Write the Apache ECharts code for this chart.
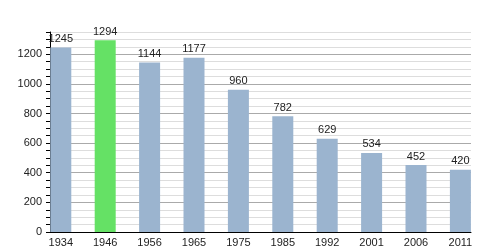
<!DOCTYPE html>
<html><head><meta charset="utf-8">
<script src="https://cdn.jsdelivr.net/npm/echarts@6/dist/echarts.min.js"></script>
<style>html,body{margin:0;padding:0;background:#fff}#c{width:500px;height:250px}</style>
</head><body><div id="c"></div>
<script>
const years = ['1934','1946','1956','1965','1975','1985','1992','2001','2006','2011'];
const population = [1245,1294,1144,1177,960,782,629,534,452,420];
const highlightYear = '1946';
const yMax = 1350;

const blue = '#9bb4cf', green = '#65e165';
const font = 'Liberation Sans, Arial, sans-serif';
const chart = echarts.init(document.getElementById('c'), null, {renderer:'canvas'});
chart.setOption({
  animation:false,
  grid:[
    {left:50, right:29, top:32, bottom:18},
    {left:38.6, right:17.4, top:32, bottom:18}
  ],
  xAxis:[
    {gridIndex:0, type:'value', min:0, max:1, axisLine:{show:true,onZero:false,lineStyle:{color:'#000',width:1}},
     axisTick:{show:false}, axisLabel:{show:false}, splitLine:{show:false}},
    {gridIndex:1, type:'category', data:years, axisLine:{show:false}, axisTick:{show:false},
     axisLabel:{color:'#222', fontSize:11, fontFamily:font, margin:5}}
  ],
  yAxis:[
    {gridIndex:0, type:'value', min:0, max:yMax, interval:50,
     axisLine:{show:true, lineStyle:{color:'#000', width:1}},
     axisTick:{show:true, length:4, lineStyle:{color:'#000'}},
     axisLabel:{color:'#222', fontSize:11, fontFamily:font, margin:8,
       formatter:v => (v % 200 === 0 ? String(v) : '')},
     splitLine:{show:true, lineStyle:{color:['#aaaaaa','#dddddd','#dddddd','#dddddd'], width:1}}},
    {gridIndex:1, type:'value', min:0, max:yMax, show:false, splitLine:{show:false}}
  ],
  series:[{
    type:'bar', xAxisIndex:1, yAxisIndex:1, barWidth:21,
    data: population.map((v,i)=>({value:v, itemStyle:{color: years[i]===highlightYear ? green : blue}})),
    label:{show:true, position:'top', distance:3, color:'#222', fontSize:11, fontFamily:font}
  }]
});
</script></body></html>
